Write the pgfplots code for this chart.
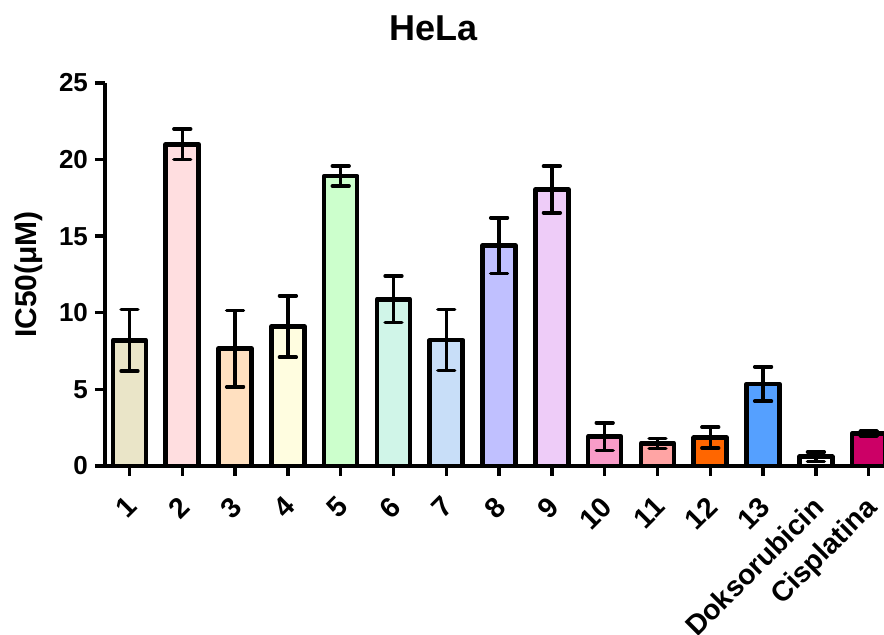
\documentclass[border=0pt]{standalone}
\usepackage{fontspec}
\setmainfont{Liberation Sans}
\usepackage{pgfplots}
\pgfplotsset{compat=1.18}
\definecolor{c1}{HTML}{EAE5C8}
\definecolor{c2}{HTML}{FFDEE0}
\definecolor{c3}{HTML}{FFE0C0}
\definecolor{c4}{HTML}{FFFDE0}
\definecolor{c5}{HTML}{CCFFCC}
\definecolor{c6}{HTML}{D0F5E8}
\definecolor{c7}{HTML}{C8DEF8}
\definecolor{c8}{HTML}{C0C0FF}
\definecolor{c9}{HTML}{EECCF8}
\definecolor{c10}{HTML}{F89CC8}
\definecolor{c11}{HTML}{FFA4A4}
\definecolor{c12}{HTML}{FF6600}
\definecolor{c13}{HTML}{55A0FF}
\definecolor{c14}{HTML}{FFFFFF}
\definecolor{c15}{HTML}{CC0066}
\pgfplotsset{
  eb/.style={fill=#1, draw=black, line width=2.3pt, line join=round,
    error bars/.cd, y dir=both, y explicit,
    error bar style={line width=1.75pt, black},
    error mark options={rotate=90, mark size=4.2pt, line width=1.75pt, black, line cap=round}},
}
\begin{document}
\begin{tikzpicture}
\begin{axis}[
  scale only axis, width=389.5pt, height=191.5pt,
  xmin=0.536, xmax=15.29, ymin=0, ymax=25,
  axis lines=left, x axis line style={-}, y axis line style={-},
  axis line style={line width=2pt, black},
  xtick={1,...,15},
  xticklabels={1,2,3,4,5,6,7,8,9,10,11,12,13,Doksorubicin,Cisplatina},
  ytick={0,5,10,15,20,25},
  tick align=outside, major tick length=5pt,
  tick style={line width=1.7pt, black},
  /pgf/number format/assume math mode=true,
  yticklabel style={font=\bfseries\fontsize{13}{15}\selectfont},
  xticklabel style={font=\bfseries\fontsize{14.2}{16}\selectfont, inner sep=0.5pt, xshift=-2.5pt, yshift=-8.5pt, rotate=45, anchor=north east},
  ybar, bar width=16.5pt, bar shift=0pt,
]
\addplot[eb=c1] coordinates {(1,8.2) +- (0,2.0)};
\addplot[eb=c2] coordinates {(2,21.0) +- (0,1.0)};
\addplot[eb=c3] coordinates {(3,7.66) +- (0,2.5)};
\addplot[eb=c4] coordinates {(4,9.1) +- (0,2.0)};
\addplot[eb=c5] coordinates {(5,18.93) +- (0,0.65)};
\addplot[eb=c6] coordinates {(6,10.88) +- (0,1.52)};
\addplot[eb=c7] coordinates {(7,8.22) +- (0,2.0)};
\addplot[eb=c8] coordinates {(8,14.38) +- (0,1.82)};
\addplot[eb=c9] coordinates {(9,18.05) +- (0,1.52)};
\addplot[eb=c10] coordinates {(10,1.92) +- (0,0.9)};
\addplot[eb=c11] coordinates {(11,1.48) +- (0,0.33)};
\addplot[eb=c12] coordinates {(12,1.85) +- (0,0.68)};
\addplot[eb=c13] coordinates {(13,5.35) +- (0,1.12)};
\addplot[eb=c14] coordinates {(14,0.6) +- (0,0.31)};
\addplot[eb=c15] coordinates {(15,2.13) +- (0,0.2)};
\end{axis}
\node[font=\bfseries\fontsize{18}{20}\selectfont] at (164.5pt,219pt) {HeLa};
\node[rotate=90, font=\bfseries\fontsize{15}{17}\selectfont] at (-38pt,95.75pt) {IC50(μM)};
\pgfresetboundingbox
\path[use as bounding box] (-52.5pt,-84.5pt) rectangle (389.5pt,233pt);
\end{tikzpicture}
\end{document}
